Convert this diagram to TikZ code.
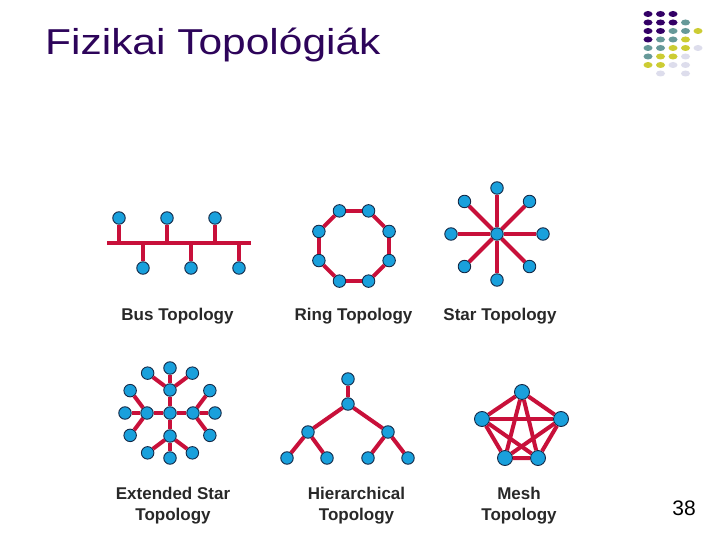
\documentclass[tikz,border=0pt]{standalone}
\usepackage{fontspec}
\setmainfont{Liberation Sans}
\usepackage{graphicx}
\usetikzlibrary{calc}

\definecolor{linkred}{RGB}{200,16,58}
\definecolor{hostblue}{RGB}{25,160,220}
\definecolor{hostline}{RGB}{20,40,70}
\definecolor{titlepurple}{RGB}{45,4,90}
\definecolor{labelgray}{RGB}{40,40,40}
\definecolor{dotP}{RGB}{51,0,102}
\definecolor{dotT}{RGB}{102,153,153}
\definecolor{dotY}{RGB}{204,204,51}
\definecolor{dotL}{RGB}{221,221,236}

\begin{document}
\begin{tikzpicture}[x=1pt,y=-1pt,
	host/.style={circle,fill=hostblue,draw=hostline,line width=0.9pt,minimum size=12.5pt,inner sep=0},
	bighost/.style={host,minimum size=15pt},
	link/.style={draw=linkred,line width=4pt},
	caption/.style={font=\fontsize{17}{21}\selectfont\bfseries,text=labelgray,align=center}]
	\useasboundingbox[fill=white] (0,0) rectangle (720,540);
	
	%TITLE
	\node[anchor=base west,inner sep=0,text=titlepurple,font=\fontsize{36}{40}\selectfont] (title) at (45,54.5) {\scalebox{1.18}[1]{Fizikai Topológiák}};
	%dots in the corner
	\foreach \r/\c/\k in {0/0/P,0/1/P,0/2/P,1/0/P,1/1/P,1/2/P,1/3/T,2/0/P,2/1/P,2/2/T,2/3/T,2/4/Y,
		3/0/P,3/1/T,3/2/T,3/3/Y,4/0/T,4/1/T,4/2/Y,4/3/Y,4/4/L,5/0/T,5/1/Y,5/2/Y,5/3/L,
		6/0/Y,6/1/Y,6/2/L,6/3/L,7/1/L,7/3/L}
		\fill[dot\k] (648+12.5*\c,14+8.5*\r) ellipse (4.5 and 3);
	
	%BUS
	\coordinate (bus west) at (107,243);
	\coordinate (bus east) at (251,243);
	\draw[link] (bus west) -- (bus east);
	\foreach \i/\x in {1/119,2/167,3/215} {
		\node[host] (bt\i) at (\x,218) {};
		\draw[link] (bt\i) -- (bt\i |- bus west);
	}
	\foreach \i/\x in {1/143,2/191,3/239} {
		\node[host] (bb\i) at (\x,268) {};
		\draw[link] (bb\i) -- (bb\i |- bus west);
	}
	
	%RING
	\foreach \i in {0,...,7} \node[host] (ring\i) at ([shift={(354,246)}]22.5+45*\i:38) {};
	\foreach \i in {0,...,7} {
		\pgfmathtruncatemacro\j{mod(\i+1,8)}
		\draw[link] (ring\i) -- (ring\j);
	}
	
	%STAR
	\node[host] (star hub) at (497,234) {};
	\foreach \a in {0,45,...,315} {
		\node[host] (star\a) at ([shift={(497,234)}]\a:46) {};
		\draw[link] (star hub) -- (star\a);
	}
	
	%EXTENDED STAR
	\node[host] (ext hub) at (170,413) {};
	\foreach \a in {0,90,180,270} {
		\node[host] (ext\a) at ([shift={(170,413)}]\a:23) {};
		\draw[link] (ext hub) -- (ext\a);
		\foreach \b/\r [count=\k] in {-53/28,0/22,53/28} {
			\node[host] (ext\a l\k) at ($(ext\a)+(\a+\b:\r)$) {};
			\draw[link] (ext\a) -- (ext\a l\k);
		}
	}
	
	%HIERARCHICAL
	\node[host] (root) at (348,379) {};
	\node[host] (core) at (348,404) {};
	\node[host] (dist1) at (308,432) {};
	\node[host] (dist2) at (388,432) {};
	\foreach \i/\x in {1/287,2/327,3/368,4/408} \node[host] (acc\i) at (\x,458) {};
	\draw[link] (root) -- (core);
	\draw[link] (core) -- (dist1);
	\draw[link] (core) -- (dist2);
	\draw[link] (dist1) -- (acc1);
	\draw[link] (dist1) -- (acc2);
	\draw[link] (dist2) -- (acc3);
	\draw[link] (dist2) -- (acc4);
	
	%MESH
	\node[bighost] (mesh top) at (522,392) {};
	\node[bighost] (mesh right) at (561,419) {};
	\node[bighost] (mesh br) at (538,458) {};
	\node[bighost] (mesh bl) at (505,458) {};
	\node[bighost] (mesh left) at (482,419) {};
	\draw[link] (mesh top) -- (mesh right) -- (mesh br) -- (mesh bl) -- (mesh left) -- (mesh top);
	\draw[link] (mesh top) -- (mesh br);
	\draw[link] (mesh top) -- (mesh bl);
	\draw[link] (mesh left) -- (mesh right);
	\draw[link] (mesh left) -- (mesh br);
	\draw[link] (mesh right) -- (mesh bl);
	
	%LABELS
	\node[caption] (bus label) at (177.5,316) {Bus Topology};
	\node[caption] (ring label) at (353.5,316) {Ring Topology};
	\node[caption] (star label) at (500,316) {Star Topology};
	\node[caption] (ext label) at (173,506) {Extended Star\\Topology};
	\node[caption] (hier label) at (356.5,506) {Hierarchical\\Topology};
	\node[caption] (mesh label) at (519,506) {Mesh\\Topology};
	\node[font=\fontsize{21}{24}\selectfont] (page) at (684,508.5) {38};
\end{tikzpicture}
\end{document}
